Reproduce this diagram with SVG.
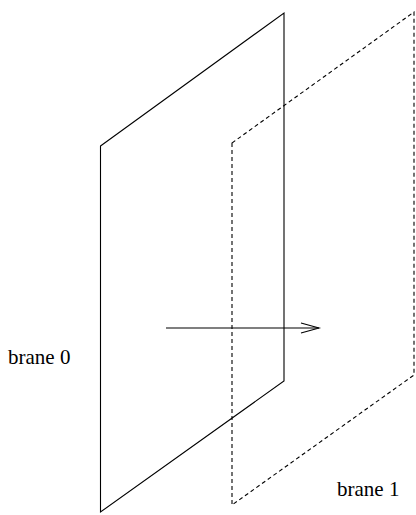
<svg xmlns="http://www.w3.org/2000/svg" width="416" height="515" viewBox="0 0 416 515">
<style>
.solid{fill:none;stroke:#000;stroke-width:1.1}
.dash{fill:none;stroke:#000;stroke-width:1.1;stroke-dasharray:4,3}
.lbl{font-family:"Liberation Serif","Times New Roman",serif;font-size:21px;fill:#000}
</style>
<rect width="416" height="515" fill="#fff"/>
<g id="brane1">
<polygon class="dash" points="232,143 414,12 414,375 232,505"/>
<text class="lbl" x="337" y="496">brane 1</text>
</g>
<g id="brane0">
<polygon class="solid" points="100.5,146 284,13 284,381 100.5,512"/>
<text class="lbl" x="8" y="364">brane 0</text>
</g>
<g id="connectors">
<line class="solid" x1="166" y1="328" x2="319" y2="328"/>
<polyline class="solid" points="301,323 319,328 301,333"/>
</g>
</svg>
